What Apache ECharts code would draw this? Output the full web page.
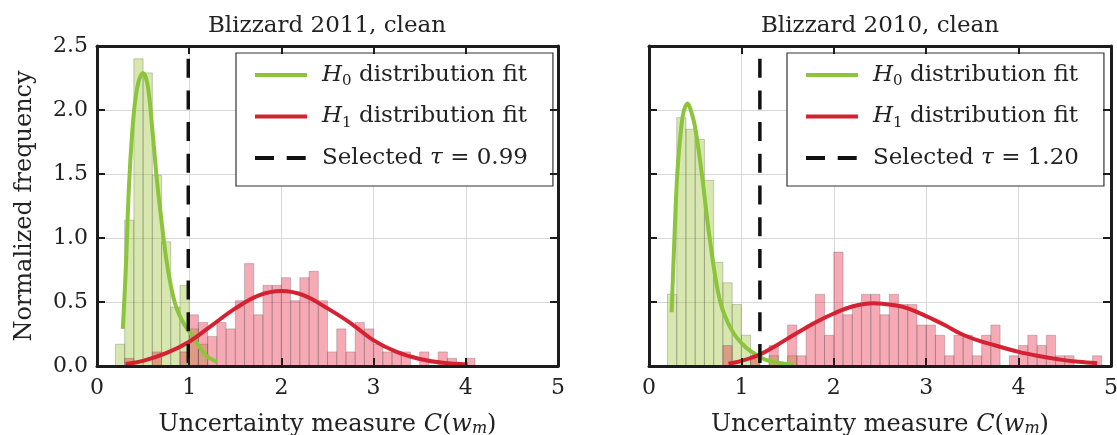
<!DOCTYPE html>
<html><head><meta charset="utf-8">
<style>html,body{margin:0;padding:0;background:#fff}#c{width:1117px;height:435px}</style>
<script src="https://cdn.jsdelivr.net/npm/echarts@6/dist/echarts.min.js"></script>
</head><body><div id="c"></div>
<script>
// ---------------- data ----------------
const BIN_W = 0.1;
const xTicks = [0, 1, 2, 3, 4, 5];
const yTicks = [0.0, 0.5, 1.0, 1.5, 2.0, 2.5];
const titles = ['Blizzard 2011, clean', 'Blizzard 2010, clean'];
const TAU_2011 = 0.99;
const TAU_2010 = 1.20;

// Blizzard 2011 histograms (normalized frequency per 0.1-wide bin)
const h0_2011_start = 0.2;
const h0_2011 = [0.17, 1.14, 2.40, 2.29, 1.49, 0.97, 0.46, 0.63, 0.29, 0.17];
const h1_2011_start = 0.3;
const h1_2011 = [0.06, 0, 0, 0.11, 0, 0, 0.11, 0.40, 0.34, 0.23, 0.34, 0.29, 0.51, 0.80, 0.40, 0.63, 0.63, 0.69, 0.51, 0.69, 0.74, 0.51, 0.11, 0.29, 0.11, 0.34, 0.29, 0.17, 0.11, 0.11, 0.11, 0, 0.11, 0, 0.11, 0.06, 0, 0.06];

// Blizzard 2010 histograms
const h0_2010_start = 0.2;
const h0_2010 = [0.56, 1.94, 1.85, 1.77, 1.45, 0.81, 0.65, 0.48, 0.24, 0.08, 0, 0.08, 0, 0.08];
const h1_2010_start = 0.8;
const h1_2010 = [0.16, 0, 0, 0.08, 0, 0.16, 0, 0.32, 0.08, 0.32, 0.56, 0.24, 0.89, 0.40, 0.48, 0.56, 0.56, 0.40, 0.56, 0.48, 0.48, 0.32, 0.32, 0.24, 0.08, 0.24, 0.24, 0.08, 0.24, 0.32, 0, 0.08, 0.16, 0.24, 0.16, 0.24, 0.08, 0.08, 0, 0, 0.08];

// fitted curves
const fitH0_2011_x = [0.28, 0.31, 0.35, 0.40, 0.45, 0.50, 0.55, 0.60, 0.65, 0.70, 0.75, 0.80, 0.85, 0.90, 0.95, 1.00, 1.05, 1.10, 1.15, 1.20, 1.25, 1.30];
const fitH0_2011_y = [0.29, 0.72, 1.45, 1.98, 2.22, 2.29, 2.19, 1.85, 1.45, 1.13, 0.84, 0.63, 0.48, 0.39, 0.32, 0.27, 0.22, 0.16, 0.11, 0.07, 0.05, 0.03];
const fitH1_2011_x = [0.31, 0.50, 0.75, 1.00, 1.25, 1.50, 1.75, 2.00, 2.25, 2.50, 2.75, 3.00, 3.25, 3.50, 3.75, 4.02];
const fitH1_2011_y = [0.015, 0.04, 0.10, 0.19, 0.32, 0.45, 0.55, 0.585, 0.55, 0.45, 0.335, 0.20, 0.11, 0.055, 0.025, 0.012];

const fitH0_2010_x = [0.245, 0.274, 0.307, 0.354, 0.38, 0.418, 0.46, 0.498, 0.57, 0.66, 0.768, 0.895, 1.04, 1.20, 1.30, 1.40, 1.56];
const fitH0_2010_y = [0.42, 0.98, 1.51, 1.90, 2.00, 2.05, 1.98, 1.87, 1.51, 0.98, 0.51, 0.28, 0.15, 0.07, 0.04, 0.025, 0.01];
const fitH1_2010_x = [0.86, 1.00, 1.20, 1.40, 1.56, 1.80, 2.00, 2.20, 2.43, 2.66, 2.80, 3.00, 3.20, 3.38, 3.56, 3.75, 4.00, 4.20, 4.47, 4.65, 4.85];
const fitH1_2010_y = [0.017, 0.04, 0.09, 0.17, 0.24, 0.34, 0.41, 0.465, 0.49, 0.474, 0.45, 0.39, 0.32, 0.25, 0.20, 0.16, 0.11, 0.08, 0.048, 0.033, 0.022];

// ---------------- styling ----------------
const FONT = '"DejaVu Serif", serif';
const TXT = '#222';
const GREEN = '#8cc43c';
const RED = '#d42233';
const GREEN_FILL = 'rgba(155,195,55,0.40)';
const RED_FILL = 'rgba(231,31,60,0.38)';
const EDGE = 'rgba(90,90,90,0.30)';
const FRAME = '#1c1c1c';

function bins(start, heights) {
  const out = [];
  heights.forEach((h, i) => {
    if (h > 0) {
      const a = +(start + i * BIN_W).toFixed(3);
      out.push([a, +(a + BIN_W).toFixed(3), h]);
    }
  });
  return out;
}
function zip(xs, ys) { return xs.map((x, i) => [x, ys[i]]); }
function barRender(fill) {
  return function (params, api) {
    const p0 = api.coord([api.value(0), api.value(2)]);
    const p1 = api.coord([api.value(1), 0]);
    return { type: 'rect', shape: { x: p0[0], y: p0[1], width: p1[0] - p0[0], height: p1[1] - p0[1] },
      style: { fill: fill, stroke: EDGE, lineWidth: 1 } };
  };
}

const richSub = {
  s: { fontFamily: FONT, fontSize: 15, verticalAlign: 'bottom', lineHeight: 15, color: TXT },
  si: { fontFamily: FONT, fontSize: 16, fontStyle: 'italic', verticalAlign: 'bottom', lineHeight: 16, color: TXT }
};

const grids = [
  { left: 97, top: 46, width: 461, height: 320, outerBoundsMode: 'none', containLabel: false },
  { left: 649, top: 46, width: 462, height: 320, outerBoundsMode: 'none', containLabel: false }
];

const xAxes = [], yAxes = [];
grids.forEach((g, gi) => {
  xAxes.push({ type: 'value', gridIndex: gi, min: xTicks[0], max: xTicks[xTicks.length - 1], interval: 1, position: 'bottom',
    axisLine: { show: false }, axisTick: { show: false },
    splitLine: { show: true, lineStyle: { color: '#d8d8d8', width: 1 } },
    axisLabel: { fontFamily: FONT, fontSize: 22, color: TXT, margin: 11 },
    name: 'Uncertainty measure {i|C}({i|w}{si|m})', nameLocation: 'middle', nameGap: 47,
    nameTextStyle: { fontFamily: FONT, fontSize: 24, color: TXT, rich: { i: { fontFamily: FONT, fontSize: 24, fontStyle: 'italic', color: TXT }, si: richSub.si } } });
  xAxes.push({ type: 'value', gridIndex: gi, min: 0, max: 5, interval: 1, position: 'bottom', z: 10,
    axisLine: { show: true, onZero: false, lineStyle: { color: FRAME, width: 3 } },
    axisTick: { show: true, inside: true, length: 8, lineStyle: { color: FRAME, width: 2 } },
    splitLine: { show: false }, axisLabel: { show: false } });
  xAxes.push({ type: 'value', gridIndex: gi, min: 0, max: 5, interval: 1, position: 'top', z: 10,
    axisLine: { show: true, onZero: false, lineStyle: { color: FRAME, width: 3 } },
    axisTick: { show: true, inside: true, length: 8, lineStyle: { color: FRAME, width: 2 } },
    splitLine: { show: false }, axisLabel: { show: false } });

  yAxes.push({ type: 'value', gridIndex: gi, min: yTicks[0], max: yTicks[yTicks.length - 1], interval: 0.5, position: 'left',
    axisLine: { show: false }, axisTick: { show: false },
    splitLine: { show: true, lineStyle: { color: '#d8d8d8', width: 1 } },
    axisLabel: { show: gi === 0, fontFamily: FONT, fontSize: 22, color: TXT, margin: 9, formatter: v => v.toFixed(1) },
    name: gi === 0 ? 'Normalized frequency' : '', nameLocation: 'middle', nameGap: 60,
    nameTextStyle: { fontFamily: FONT, fontSize: 24, color: TXT } });
  yAxes.push({ type: 'value', gridIndex: gi, min: 0, max: 2.5, interval: 0.5, position: 'left', z: 10,
    axisLine: { show: true, onZero: false, lineStyle: { color: FRAME, width: 3 } },
    axisTick: { show: true, inside: true, length: 8, lineStyle: { color: FRAME, width: 2 } },
    splitLine: { show: false }, axisLabel: { show: false } });
  yAxes.push({ type: 'value', gridIndex: gi, min: 0, max: 2.5, interval: 0.5, position: 'right', z: 10,
    axisLine: { show: true, onZero: false, lineStyle: { color: FRAME, width: 3 } },
    axisTick: { show: true, inside: true, length: 8, lineStyle: { color: FRAME, width: 2 } },
    splitLine: { show: false }, axisLabel: { show: false } });
});

function panelSeries(ai, h0s, h0, h1s, h1, f0x, f0y, f1x, f1y, tau, tauName) {
  return [
    { type: 'custom', xAxisIndex: ai, yAxisIndex: ai, z: 1, silent: true, renderItem: barRender(GREEN_FILL),
      encode: { x: [0, 1], y: 2 }, data: bins(h0s, h0) },
    { type: 'custom', xAxisIndex: ai, yAxisIndex: ai, z: 1, silent: true, renderItem: barRender(RED_FILL),
      encode: { x: [0, 1], y: 2 }, data: bins(h1s, h1) },
    { type: 'line', name: 'H0', xAxisIndex: ai, yAxisIndex: ai, z: 5, data: zip(f0x, f0y), symbol: 'none', smooth: 0.35,
      lineStyle: { color: GREEN, width: 4 }, itemStyle: { color: GREEN } },
    { type: 'line', name: 'H1', xAxisIndex: ai, yAxisIndex: ai, z: 5, data: zip(f1x, f1y), symbol: 'none', smooth: 0.35,
      lineStyle: { color: RED, width: 4 }, itemStyle: { color: RED } },
    { type: 'line', name: tauName, xAxisIndex: ai, yAxisIndex: ai, z: 6, data: [[tau, 2.5], [tau, 0]], symbol: 'none',
      lineStyle: { color: '#111', width: 3.5, type: [19, 12.7], dashOffset: 19 }, itemStyle: { color: '#111' } }
  ];
}

const legendText = {
  H0: '{i|H}{s|0} distribution fit',
  H1: '{i|H}{s|1} distribution fit',
  tau2011: 'Selected {i|τ} = ' + TAU_2011.toFixed(2),
  tau2010: 'Selected {i|τ} = ' + TAU_2010.toFixed(2)
};
function makeLegend(left, tauName) {
  return { left: left, top: 53, orient: 'vertical', data: ['H0', 'H1', tauName], selectedMode: false,
    itemWidth: 52, itemHeight: 14, itemGap: 13.5, padding: [8, 25, 14, 17],
    backgroundColor: '#fff', borderColor: '#333', borderWidth: 1.2, borderRadius: 0,
    itemStyle: { color: 'rgba(0,0,0,0)', borderWidth: 0, opacity: 0 },
    lineStyle: { dashOffset: 0, width: 4 },
    textStyle: { fontFamily: FONT, fontSize: 23, color: TXT, lineHeight: 28, padding: [0, 0, 0, 10],
      rich: { i: { fontFamily: FONT, fontSize: 23, fontStyle: 'italic', color: TXT }, s: richSub.s } },
    formatter: name => legendText[name] };
}

const option = {
  animation: false,
  backgroundColor: '#fff',
  grid: grids,
  xAxis: xAxes,
  yAxis: yAxes,
  legend: [makeLegend(236, 'tau2011'), makeLegend(787, 'tau2010')],
  graphic: [
    { type: 'text', x: 327, y: 15, style: { text: titles[0], fontFamily: FONT, fontSize: 23, fill: TXT, align: 'center', textAlign: 'center', verticalAlign: 'top', textVerticalAlign: 'top' } },
    { type: 'text', x: 880, y: 15, style: { text: titles[1], fontFamily: FONT, fontSize: 23, fill: TXT, align: 'center', textAlign: 'center', verticalAlign: 'top', textVerticalAlign: 'top' } }
  ],
  series: [].concat(
    panelSeries(0, h0_2011_start, h0_2011, h1_2011_start, h1_2011, fitH0_2011_x, fitH0_2011_y, fitH1_2011_x, fitH1_2011_y, TAU_2011, 'tau2011'),
    panelSeries(3, h0_2010_start, h0_2010, h1_2010_start, h1_2010, fitH0_2010_x, fitH0_2010_y, fitH1_2010_x, fitH1_2010_y, TAU_2010, 'tau2010')
  )
};
const chart = echarts.init(document.getElementById('c'), null, { renderer: 'canvas' });
chart.setOption(option);
</script></body></html>
